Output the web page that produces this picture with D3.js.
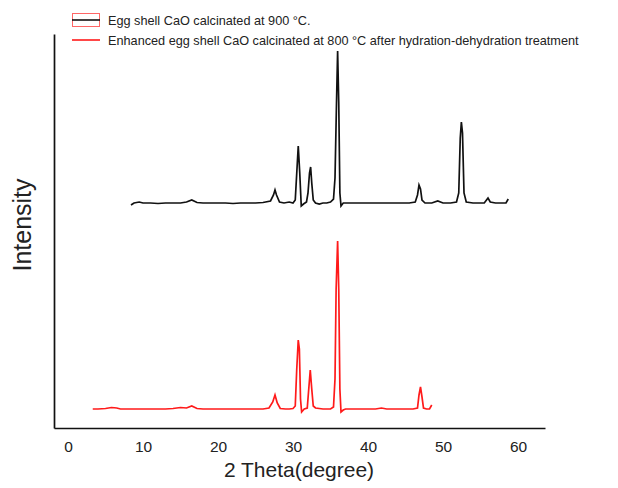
<!DOCTYPE html>
<html>
<head>
<meta charset="utf-8">
<script src="https://cdn.jsdelivr.net/npm/d3@7"></script>
<style>
  body { margin: 0; background: white; }
  text { font-family: "Liberation Sans", Arial, sans-serif; }
</style>
</head>
<body>
<svg id="chart" width="618" height="488"></svg>
<script>
  // series values (intensity above each trace's baseline)
  let blackTheta = [8.4, 8.8, 9.5, 10, 11, 12, 13, 14, 15, 15.8, 16.5, 17.2, 18, 19, 20, 21, 22, 23, 24, 25, 26,
    27.0, 27.4, 27.6, 27.8, 28.2, 28.8, 29.5, 30.0, 30.3, 30.5, 30.7, 30.9, 31.1, 31.4, 31.8, 32.0, 32.2, 32.35, 32.5, 32.7,
    33.0, 33.5, 34, 34.5, 35.0, 35.4, 35.6, 35.8, 35.95, 36.1, 36.25, 36.4, 36.7, 37, 38, 39, 40, 41, 42, 43, 44, 45, 45.5,
    46.3, 46.6, 46.8, 47.0, 47.2, 47.6, 48, 48.5, 49.3, 50, 51, 51.8, 52.1, 52.3, 52.45, 52.6, 52.8, 53.1, 54, 55, 55.5,
    55.8, 56.0, 56.3, 57, 58, 58.4, 58.7];
  let blackInt = [-2, 0, 1, 0, 0, -0.5, 0, 0, 0, 1, 3, 0.5, 0, 0, 0, 0, -0.5, 0, 0, 0, 0.5,
    2, 8, 13, 8, 1, 0, 1, 0, 3, 30, 57, 30, -3, -1, 1, 10, 30, 36, 20, 3,
    0, -1, 0, 0, 1, 4, 25, 100, 152, 100, 10, -3, 0, 0, 0, 0, 0, 0, 0, 0, 0, 0, 0,
    1, 8, 18, 14, 3, 0, 0, 0, 2, 0, 0, 1, 10, 65, 81, 70, 10, 1, 0, 0, 0,
    3, 5, 1, 0, 0, 0, 4];

  let redTheta = [3.3, 4, 5, 5.8, 6.5, 7, 8, 9, 10, 11, 12, 13, 14, 15, 15.8, 16.5, 17.2, 18, 19, 20, 21, 22, 23, 24, 25, 26,
    26.8, 27.3, 27.6, 27.9, 28.3, 29, 29.5, 30.0, 30.3, 30.5, 30.7, 30.85, 31.0, 31.15, 31.5, 31.9, 32.1, 32.3, 32.5, 32.7,
    33, 34, 35, 35.4, 35.6, 35.75, 35.95, 36.1, 36.25, 36.4, 36.7, 37, 38, 39, 40, 41, 41.8, 42.5, 43, 44, 45, 46,
    46.6, 46.8, 47.0, 47.2, 47.4, 47.8, 48.2, 48.5];
  let redInt = [0, 0, 0.5, 1.5, 1, 0, 0, 0, 0, 0, 0, 0, 0.5, 1.5, 1, 3, 0.5, 0, 0, 0, 0, 0, 0, 0, 0, 0,
    1, 7, 14, 6, 0.5, 0, 0, 0.5, 3, 40, 69, 60, 10, -3, 0, 1, 20, 39, 20, 3,
    1, 0, 0, 2, 30, 120, 168, 120, 20, -3, -1, 0, 0, 0, 0, 0, 1, 0, 0, 0, 0, 0,
    1, 14, 22, 12, 1, 0, 0, 4];

  let blackOffset = 225;
  let redOffset = 19;

  let xTicks = [0, 10, 20, 30, 40, 50, 60];
  let legendLabels = ["Egg shell CaO calcinated at 900 \u00B0C.",
    "Enhanced egg shell CaO calcinated at 800 \u00B0C after hydration-dehydration treatment"];

  let svg = d3.select("#chart");
  let margin = {top: 34, bottom: 60, left: 54, right: 73};
  let width = 618, height = 488;

  let x = d3.scaleLinear().domain([-1.867, 63.6]).range([margin.left, width - margin.right]);
  let y = d3.scaleLinear().domain([0, 394]).range([height - margin.bottom, margin.top]);

  let line = d3.line()
    .x(function(d){ return x(d[0]); })
    .y(function(d){ return y(d[1]); });

  let blackData = blackTheta.map(function(t, i){ return [t, blackInt[i] + blackOffset]; });
  let redData = redTheta.map(function(t, i){ return [t, redInt[i] + redOffset]; });

  svg.append("path").datum(redData)
    .attr("d", line).attr("fill", "none")
    .attr("stroke", "#ff1a1a").attr("stroke-width", 1.7);
  svg.append("path").datum(blackData)
    .attr("d", line).attr("fill", "none")
    .attr("stroke", "#111").attr("stroke-width", 1.7);

  // axes
  let xAxisG = svg.append("g")
    .attr("transform", "translate(0," + (height - margin.bottom) + ")")
    .call(d3.axisBottom(x).tickValues(xTicks).tickSize(0).tickPadding(13));
  xAxisG.selectAll("text")
    .style("font-family", "'Liberation Sans', Arial, sans-serif")
    .style("font-size", "15.5px").attr("fill", "#222");

  let yAxisG = svg.append("g")
    .attr("transform", "translate(" + margin.left + ",0)")
    .call(d3.axisLeft(y).tickValues([]).tickSizeOuter(0));

  svg.selectAll(".domain").attr("stroke", "#111").attr("stroke-width", 1.7);

  svg.append("text")
    .attr("x", 299).attr("y", 477)
    .attr("text-anchor", "middle")
    .style("font-size", "21px").attr("fill", "#222")
    .text("2 Theta(degree)");

  svg.append("text")
    .attr("transform", "translate(31,225) rotate(-90)")
    .attr("text-anchor", "middle")
    .style("font-size", "25px").attr("fill", "#222")
    .text("Intensity");

  // legend
  let legend = svg.append("g");
  legend.append("rect")
    .attr("x", 72.5).attr("y", 13.5).attr("width", 27).attr("height", 13)
    .attr("fill", "none").attr("stroke", "#ff6666").attr("stroke-width", 1);
  legend.append("line")
    .attr("x1", 72).attr("x2", 100).attr("y1", 20).attr("y2", 20)
    .attr("stroke", "#111").attr("stroke-width", 1.6);
  legend.append("line")
    .attr("x1", 72).attr("x2", 100).attr("y1", 40).attr("y2", 40)
    .attr("stroke", "#ff1a1a").attr("stroke-width", 1.6);
  legend.selectAll(".lbl")
    .data(legendLabels)
    .enter()
    .append("text")
    .attr("class", "lbl")
    .attr("x", 108)
    .attr("y", function(d, i){ return 24.5 + i * 20; })
    .style("font-size", "12.7px").attr("fill", "#222")
    .text(function(d){ return d; });
</script>
</body>
</html>
